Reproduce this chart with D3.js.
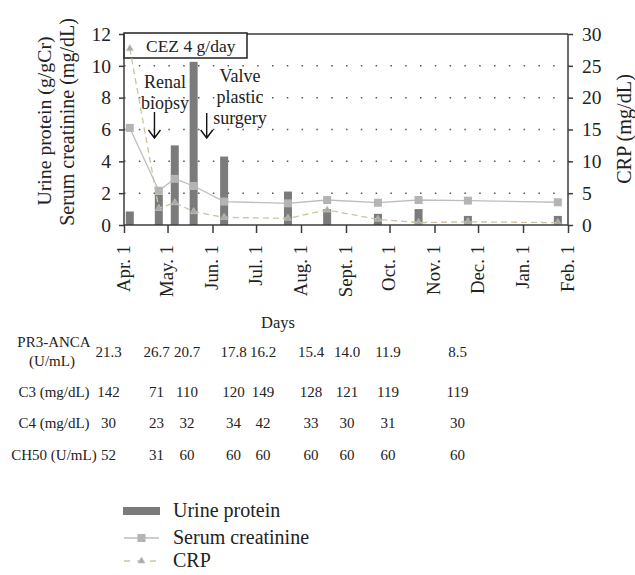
<!DOCTYPE html>
<html>
<head>
<meta charset="utf-8">
<script src="https://cdn.jsdelivr.net/npm/d3@7"></script>
<style>
  body { margin: 0; background: #fff; }
  svg { display: block; }
</style>
</head>
<body>
<svg id="chart" width="635" height="575" font-family="Liberation Serif, DejaVu Serif, serif"></svg>
<script>
// --- data ---
const visitDates = ["2011-04-05", "2011-04-25", "2011-05-06", "2011-05-19", "2011-06-09",
  "2011-07-23", "2011-08-19", "2011-09-23", "2011-10-21", "2011-11-24", "2012-01-25"];
const urineProtein = [0.85, 1.9, 5.0, 10.25, 4.3, 2.1, 1.0, 0.7, 1.0, 0.57, 0.57];
const serumCreatinine = [6.1, 2.15, 2.9, 2.45, 1.47, 1.36, 1.57, 1.4, 1.57, 1.53, 1.43];
const crp = [27.7, 2.6, 3.5, 2.1, 1.2, 1.05, 2.35, 0.9, 0.37, 0.5, 0.37];

const monthTicks = ["2011-04-01", "2011-05-01", "2011-06-01", "2011-07-01", "2011-08-01",
  "2011-09-01", "2011-10-01", "2011-11-01", "2011-12-01", "2012-01-01", "2012-02-01"];
const monthLabels = ["Apr. 1", "May. 1", "Jun. 1", "Jul. 1", "Aug. 1", "Sept. 1",
  "Oct. 1", "Nov. 1", "Dec. 1", "Jan. 1", "Feb. 1"];
const leftTicks = [0, 2, 4, 6, 8, 10, 12];
const rightTicks = [0, 5, 10, 15, 20, 25, 30];

// table below the chart
const tableRowLabels = [["PR3-ANCA", "(U/mL)"], ["C3 (mg/dL)"], ["C4 (mg/dL)"], ["CH50 (U/mL)"]];
const pr3Anca = ["21.3", "26.7", "20.7", "17.8", "16.2", "15.4", "14.0", "11.9", "8.5"];
const c3 = ["142", "71", "110", "120", "149", "128", "121", "119", "119"];
const c4 = ["30", "23", "32", "34", "42", "33", "30", "31", "30"];
const ch50 = ["52", "31", "60", "60", "60", "60", "60", "60", "60"];

const legendItems = ["Urine protein", "Serum creatinine", "CRP"];

// --- layout ---
const parse = d3.timeParse("%Y-%m-%d");
const svg = d3.select("#chart");
const plot = { left: 124, right: 568, top: 34, bottom: 225 };
const axisColor = "#3c3c3c";
const ink = "#222";
const serif = "Liberation Serif, DejaVu Serif, serif";

const x = d3.scaleTime()
  .domain([parse(monthTicks[0]), parse(monthTicks[monthTicks.length - 1])])
  .range([plot.left, plot.right]);
const yL = d3.scaleLinear().domain([0, 12]).range([plot.bottom, plot.top]);
const yR = d3.scaleLinear().domain([0, 30]).range([plot.bottom, plot.top]);

const pts = visitDates.map((d, i) => ({
  date: parse(d), up: urineProtein[i], cr: serumCreatinine[i], crp: crp[i]
}));

// dotted grid
svg.append("g")
  .selectAll("line")
  .data(leftTicks.filter(t => t > 0 && t < 12))
  .join("line")
  .attr("x1", plot.left).attr("x2", plot.right)
  .attr("y1", d => yL(d)).attr("y2", d => yL(d))
  .attr("stroke", "#555").attr("stroke-width", 1.5)
  .attr("stroke-dasharray", "1.5 13.3");

// top frame line
svg.append("line")
  .attr("x1", plot.left).attr("x2", plot.right)
  .attr("y1", plot.top).attr("y2", plot.top)
  .attr("stroke", axisColor).attr("stroke-width", 1.5);

// bars
const barW = 8;
svg.append("g")
  .selectAll("rect")
  .data(pts)
  .join("rect")
  .attr("x", d => x(d.date) - barW / 2)
  .attr("y", d => yL(d.up))
  .attr("width", barW)
  .attr("height", d => yL(0) - yL(d.up))
  .attr("fill", "#7b7b7b");

// CEZ box
svg.append("rect")
  .attr("x", plot.left).attr("y", plot.top - 1)
  .attr("width", 123).attr("height", 25)
  .attr("fill", "#fff").attr("stroke", "#222").attr("stroke-width", 1.5);
svg.append("text")
  .attr("x", 146).attr("y", 52)
  .attr("font-family", serif).attr("font-size", 17.5).attr("fill", ink)
  .text("CEZ 4 g/day");

// serum creatinine line
svg.append("path")
  .datum(pts)
  .attr("fill", "none").attr("stroke", "#bdbdbd").attr("stroke-width", 1.3)
  .attr("d", d3.line().x(d => x(d.date)).y(d => yL(d.cr)));

// CRP dashed line
svg.append("path")
  .datum(pts)
  .attr("fill", "none").attr("stroke", "#cbc49e").attr("stroke-width", 1.3)
  .attr("stroke-dasharray", "6 4")
  .attr("d", d3.line().x(d => x(d.date)).y(d => yR(d.crp)));

// markers
const sq = 8;
svg.append("g")
  .selectAll("rect")
  .data(pts)
  .join("rect")
  .attr("x", d => x(d.date) - sq / 2)
  .attr("y", d => yL(d.cr) - sq / 2)
  .attr("width", sq).attr("height", sq)
  .attr("fill", "#b4b4b4");

const tri = d3.symbol().type(d3.symbolTriangle).size(22);
svg.append("g")
  .selectAll("path")
  .data(pts)
  .join("path")
  .attr("transform", d => `translate(${x(d.date)},${yR(d.crp)})`)
  .attr("d", tri)
  .attr("fill", "#a9a9a9").attr("stroke", "#c8c8c8").attr("stroke-width", 0.6);

// axes
const bottomAxis = svg.append("g")
  .attr("transform", `translate(0,${plot.bottom})`)
  .call(d3.axisBottom(x).tickValues(monthTicks.map(parse)).tickSize(8).tickFormat(""));
const leftAxis = svg.append("g")
  .attr("transform", `translate(${plot.left},0)`)
  .call(d3.axisLeft(yL).tickValues(leftTicks).tickSize(5).tickPadding(8));
const rightAxis = svg.append("g")
  .attr("transform", `translate(${plot.right},0)`)
  .call(d3.axisRight(yR).tickValues(rightTicks).tickSize(5).tickPadding(9));

[bottomAxis, leftAxis, rightAxis].forEach(a => {
  a.attr("font-family", serif);
  a.select(".domain").attr("stroke", axisColor).attr("stroke-width", 1.5);
  a.selectAll(".tick line").attr("stroke", axisColor).attr("stroke-width", 1.5);
  a.selectAll("text").attr("font-size", 19.5).attr("fill", ink);
});
leftAxis.select(".domain").attr("d", `M0,${plot.bottom}V${plot.top}`);
rightAxis.select(".domain").attr("d", `M0,${plot.bottom}V${plot.top}`);
bottomAxis.select(".domain").attr("d", `M${plot.left},0H${plot.right}`);

// month labels, rotated
svg.append("g")
  .selectAll("text")
  .data(monthTicks)
  .join("text")
  .attr("transform", d => `translate(${x(parse(d)) + 5.5},245) rotate(-90)`)
  .attr("text-anchor", "end")
  .attr("font-family", serif).attr("font-size", 18.8).attr("fill", ink)
  .text((d, i) => monthLabels[i]);

svg.append("text")
  .attr("x", 278).attr("y", 328)
  .attr("text-anchor", "middle")
  .attr("font-family", serif).attr("font-size", 16.5).attr("fill", ink)
  .text("Days");

// axis titles
function vTitle(s, tx, ty, fs) {
  svg.append("text")
    .attr("transform", `translate(${tx},${ty}) rotate(-90)`)
    .attr("text-anchor", "middle")
    .attr("font-family", serif).attr("font-size", fs).attr("fill", ink)
    .text(s);
}
vTitle("Urine protein (g/gCr)", 51, 121, 19.8);
vTitle("Serum creatinine (mg/dL)", 74, 122, 20);
vTitle("CRP (mg/dL)", 631, 129, 20.2);

// annotations
function note(lines, cx, y0) {
  const t = svg.append("text").attr("text-anchor", "middle")
    .attr("font-family", serif).attr("font-size", 18).attr("fill", ink);
  lines.forEach((s, i) => t.append("tspan").attr("x", cx).attr("y", y0 + i * 21).text(s));
}
function arrow(xp, y1, y2) {
  svg.append("path")
    .attr("d", `M${xp},${y1}V${y2}M${xp - 6},${y2 - 8}L${xp},${y2}L${xp + 6},${y2 - 8}`)
    .attr("fill", "none").attr("stroke", "#111").attr("stroke-width", 1.4);
}
note(["Renal", "biopsy"], 165, 88);
arrow(x(parse("2011-04-22")), 112, 138);
note(["Valve", "plastic", "surgery"], 240, 82);
arrow(x(parse("2011-05-28")), 113, 138);

// table
const tableRows = [pr3Anca, c3, c4, ch50];
const tableColX = [108.5, 156.5, 187, 233.5, 263, 311, 347, 388, 457.5];
const rowY = [357, 397, 428, 460];
const labelX = 54;
const tableFont = 15;
tableRows.forEach((row, r) => {
  const lab = tableRowLabels[r];
  const lt = svg.append("text").attr("text-anchor", "middle")
    .attr("font-family", serif).attr("font-size", tableFont).attr("fill", ink);
  if (lab.length === 2) {
    lt.append("tspan").attr("x", labelX).attr("y", 347).text(lab[0]);
    lt.append("tspan").attr("x", labelX - 2).attr("y", 366).text(lab[1]);
  } else {
    lt.append("tspan").attr("x", labelX).attr("y", rowY[r]).text(lab[0]);
  }
  svg.append("g")
    .selectAll("text")
    .data(row)
    .join("text")
    .attr("x", (d, i) => tableColX[i])
    .attr("y", rowY[r])
    .attr("text-anchor", "middle")
    .attr("font-family", serif).attr("font-size", tableFont).attr("fill", ink)
    .text(d => d);
});

// legend
const lg = svg.append("g").attr("transform", "translate(123,0)");
const legY = [511, 538, 561];
lg.append("rect").attr("x", 0).attr("y", legY[0] - 4).attr("width", 37).attr("height", 8).attr("fill", "#7b7b7b");
lg.append("line").attr("x1", 1).attr("x2", 36).attr("y1", legY[1]).attr("y2", legY[1])
  .attr("stroke", "#bdbdbd").attr("stroke-width", 1.3);
lg.append("rect").attr("x", 18.5 - sq / 2).attr("y", legY[1] - sq / 2).attr("width", sq).attr("height", sq)
  .attr("fill", "#b4b4b4");
lg.append("line").attr("x1", 1).attr("x2", 36).attr("y1", legY[2]).attr("y2", legY[2])
  .attr("stroke", "#cbc49e").attr("stroke-width", 1.3).attr("stroke-dasharray", "6 7");
lg.append("path").attr("transform", `translate(18.5,${legY[2]})`).attr("d", tri)
  .attr("fill", "#a9a9a9").attr("stroke", "#c8c8c8").attr("stroke-width", 0.6);
lg.selectAll("text.leg")
  .data(legendItems)
  .join("text")
  .attr("class", "leg")
  .attr("x", 50).attr("y", (d, i) => legY[i] + 6)
  .attr("font-family", serif).attr("font-size", 20).attr("fill", ink)
  .text(d => d);
</script>
</body>
</html>
